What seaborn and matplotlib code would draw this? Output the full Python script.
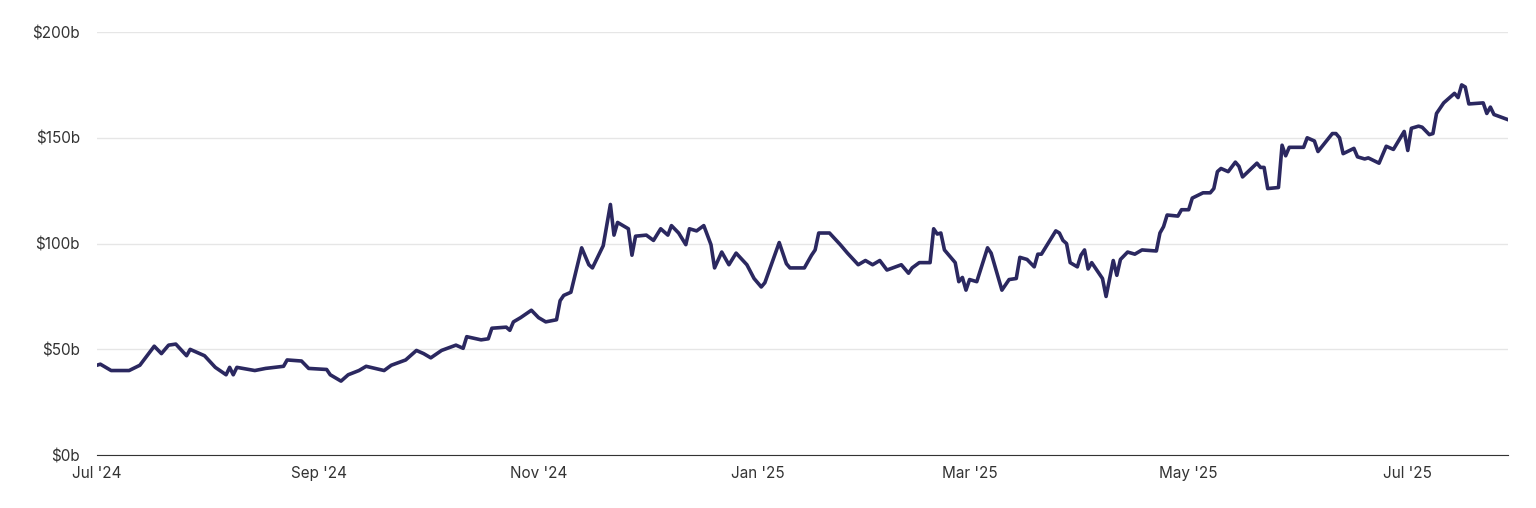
import pandas as pd
import seaborn as sns
import matplotlib.pyplot as plt
import matplotlib.dates as mdates
from matplotlib.ticker import FuncFormatter

# days since 2024-07-01 and value in $ billions
days = [0, 1, 4, 9, 12, 16, 18, 20, 22, 25, 26, 30, 33, 36, 37, 38, 39, 44, 47, 52,
        53, 57, 59, 64, 65, 68, 70, 73, 75, 80, 82, 86, 89, 91, 93, 96, 100, 102, 103, 107,
        109, 110, 114, 115, 116, 118, 121, 123, 125, 128, 129, 130, 132, 135, 137, 138, 141, 143, 144, 145,
        148, 149, 150, 153, 155, 157, 159, 160, 162, 164, 165, 167, 169, 171, 172, 174, 176, 178, 181, 183,
        185, 186, 188, 190, 192, 193, 197, 199, 200, 201, 204, 207, 209, 212, 214, 216, 218, 220, 224, 226,
        227, 229, 232, 233, 234, 235, 236, 239, 240, 241, 242, 243, 245, 248, 249, 252, 254, 256, 257, 259,
        261, 262, 263, 267, 268, 269, 270, 271, 273, 274, 275, 276, 277, 280, 281, 283, 284, 285, 287, 289,
        291, 295, 296, 297, 298, 301, 302, 304, 305, 308, 310, 311, 312, 313, 315, 317, 318, 319, 323, 324,
        325, 326, 329, 330, 331, 332, 336, 337, 339, 340, 344, 345, 346, 347, 350, 351, 353, 354, 357, 359,
        361, 364, 365, 366, 368, 369, 371, 372, 373, 375, 378, 379, 380, 381, 382, 386, 387, 388, 389, 393]
values = [42.5, 43, 40, 40, 42.5, 51.5, 48, 52, 52.5, 47, 50, 47, 41.5, 38, 41.5, 38, 41.5, 40, 41, 42,
          45, 44.5, 41, 40.5, 38, 35, 38, 40, 42, 40, 42.5, 45, 49.5, 48, 46, 49.5, 52, 50.5, 56, 54.5,
          55, 60, 60.5, 59, 63, 65, 68.5, 65, 63, 64, 73, 75.5, 77, 98, 90, 88.5, 99, 118.5, 104, 110,
          107, 94.5, 103.5, 104, 101.5, 107, 104, 108.5, 105, 99.5, 107, 106, 108.5, 99.5, 88.5, 96, 90, 95.5, 90, 83.5,
          79.5, 81.5, 91, 100.5, 90.5, 88.5, 88.5, 94.5, 97, 105, 105, 99.5, 95.5, 90, 92, 90, 92, 87.5, 90, 86,
          88.5, 91, 91, 107, 104.5, 105, 97, 91, 82, 84, 78, 83, 82, 98, 95.5, 78, 83, 83.5, 93.5, 92.5,
          89, 95, 95, 106, 105, 101.5, 100, 91, 89, 94.5, 97, 88, 91, 83.5, 75, 92, 85, 92.5, 96, 95,
          97, 96.5, 105, 108, 113.5, 113, 116, 116, 121.5, 124, 124, 126, 134, 135.5, 134, 138.5, 136.5, 131.5, 138, 136,
          136, 126, 126.5, 146.5, 141.5, 145.5, 145.5, 150, 148.5, 143.5, 152, 152, 150, 142.5, 145, 141, 140, 140.5, 138, 146,
          144.5, 153, 144, 154.5, 155.5, 155, 151.5, 152, 161.5, 166.5, 171, 169, 175, 174, 166, 166.5, 161.5, 164.5, 161, 158.5]

start = pd.Timestamp('2024-07-01')
df = pd.DataFrame({'date': start + pd.to_timedelta(days, unit='D'), 'value': values})

plt.rcParams['font.family'] = 'Inter'
fig, ax = plt.subplots(figsize=(15.36, 5.08), dpi=100)
fig.subplots_adjust(left=0.063, right=0.982, top=0.937, bottom=0.104)

sns.lineplot(data=df, x='date', y='value', ax=ax, color='#2b2860', linewidth=2.6)

ax.set_xlim(start, start + pd.Timedelta(days=393))
ax.set_ylim(0, 200)
ax.set_yticks([0, 50, 100, 150, 200])
ax.yaxis.set_major_formatter(FuncFormatter(lambda v, p: f'${v:.0f}b'))
ax.xaxis.set_major_locator(mdates.MonthLocator(bymonth=[1, 3, 5, 7, 9, 11]))
ax.xaxis.set_major_formatter(mdates.DateFormatter("%b '%y"))

ax.grid(axis='y', color='#e6e6e6', linewidth=1)
ax.set_axisbelow(True)
for s in ['top', 'right', 'left']:
    ax.spines[s].set_visible(False)
ax.spines['bottom'].set_color('#333333')
ax.tick_params(axis='y', length=0, pad=12, labelsize=11, colors='#333333')
ax.tick_params(axis='x', length=0, pad=8, labelsize=11, colors='#333333')
ax.set_xlabel('')
ax.set_ylabel('')

plt.savefig('out.png', dpi=100)
